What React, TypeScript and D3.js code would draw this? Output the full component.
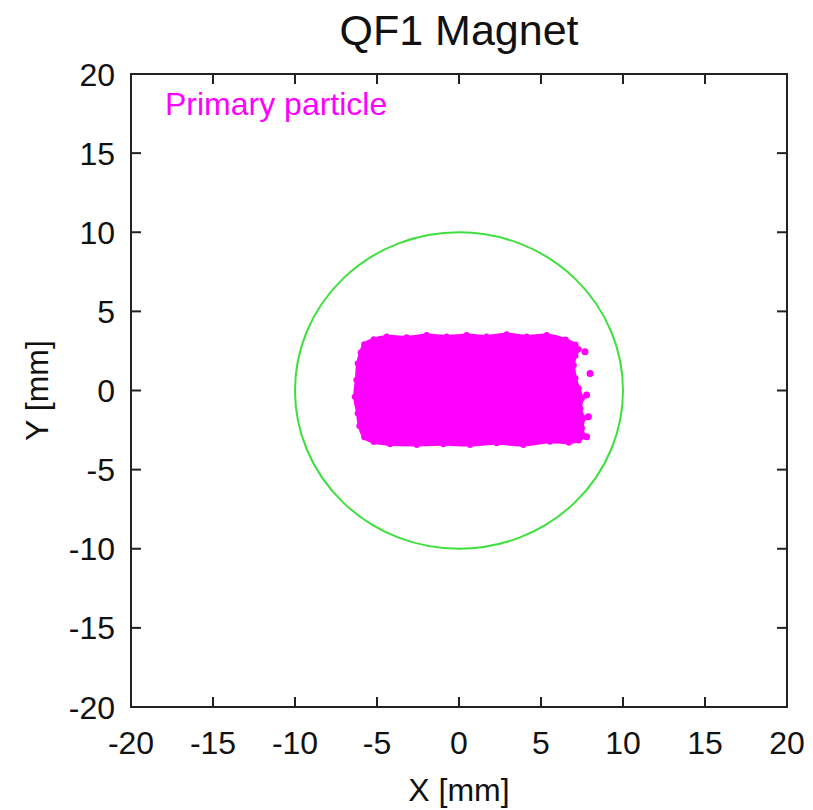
import React, { useEffect, useRef } from 'react';
import * as d3 from 'd3';

// axis ticks (mm)
const xTicks = [-20, -15, -10, -5, 0, 5, 10, 15, 20];
const yTicks = [-20, -15, -10, -5, 0, 5, 10, 15, 20];

// outline of the dense primary particle cloud [x, y] in mm
const cloudOutline: [number, number][] = [
  [-6.00, 2.40], [-5.78, 2.92], [-5.20, 3.24], [-4.41, 3.42], [-3.19, 3.36],
  [-1.97, 3.50], [-0.75, 3.42], [0.47, 3.50], [1.69, 3.42], [2.91, 3.55],
  [4.13, 3.42], [5.35, 3.50], [6.50, 3.22], [7.10, 2.90], [7.30, 2.60],
  [7.10, 2.20], [7.00, 1.60], [7.10, 0.77], [7.30, 0.14], [7.50, -0.49],
  [7.40, -1.13], [7.60, -1.76], [7.50, -2.39], [7.60, -2.86], [7.30, -3.16],
  [6.70, -3.30], [5.55, -3.24], [3.93, -3.44], [2.30, -3.34], [0.68, -3.44],
  [-0.95, -3.40], [-2.57, -3.44], [-4.20, -3.40], [-5.20, -3.26], [-5.78, -2.96],
  [-6.08, -2.25], [-6.18, -1.45], [-6.36, -0.39], [-6.26, 0.66], [-6.18, 1.71],
];

// stray particles just outside the cloud's right edge
const strayPoints: [number, number][] = [
  [7.68, 2.45], [7.99, 1.08], [7.78, -0.29], [7.89, -1.66], [7.78, -2.92],
];

// beam pipe aperture
const apertureRadius = 10;

const App = () => {
  const svgRef = useRef<SVGSVGElement>(null);
  const width = 813;
  const height = 810;

  useEffect(() => {
    const svg = d3.select(svgRef.current);
    svg.selectAll('*').remove();

    const left = 131, right = 787, top = 74, bottom = 707;
    const font = "'Liberation Sans', Arial, Helvetica, sans-serif";

    const x = d3.scaleLinear().domain([-20, 20]).range([left, right]);
    const y = d3.scaleLinear().domain([-20, 20]).range([bottom, top]);

    svg.append('rect')
      .attr('width', width).attr('height', height).attr('fill', '#fff');

    // particle cloud
    const line = d3.line<[number, number]>()
      .x(d => x(d[0]))
      .y(d => y(d[1]))
      .curve(d3.curveCatmullRomClosed);

    svg.append('path')
      .datum(cloudOutline)
      .attr('d', line)
      .attr('fill', '#ff00ff')
      .attr('stroke', '#ff00ff')
      .attr('stroke-width', 3)
      .attr('stroke-linejoin', 'round');

    svg.append('g')
      .selectAll('circle.edge')
      .data(cloudOutline)
      .join('circle')
      .attr('cx', d => x(d[0]))
      .attr('cy', d => y(d[1]))
      .attr('r', 3)
      .attr('fill', '#ff00ff');

    svg.append('g')
      .selectAll('circle.stray')
      .data(strayPoints)
      .join('circle')
      .attr('cx', d => x(d[0]))
      .attr('cy', d => y(d[1]))
      .attr('r', 3.5)
      .attr('fill', '#ff00ff');

    // aperture circle
    svg.append('ellipse')
      .attr('cx', x(0))
      .attr('cy', y(0))
      .attr('rx', x(apertureRadius) - x(0))
      .attr('ry', y(0) - y(apertureRadius))
      .attr('fill', 'none')
      .attr('stroke', '#3ee03e')
      .attr('stroke-width', 2);

    // frame
    svg.append('rect')
      .attr('x', left).attr('y', top)
      .attr('width', right - left).attr('height', bottom - top)
      .attr('fill', 'none')
      .attr('stroke', '#222')
      .attr('stroke-width', 2);

    const tickLen = 10;
    const ticks = svg.append('g').attr('stroke', '#222').attr('stroke-width', 2);
    xTicks.slice(1, -1).forEach(t => {
      ticks.append('line').attr('x1', x(t)).attr('x2', x(t)).attr('y1', bottom).attr('y2', bottom - tickLen);
      ticks.append('line').attr('x1', x(t)).attr('x2', x(t)).attr('y1', top).attr('y2', top + tickLen);
    });
    yTicks.slice(1, -1).forEach(t => {
      ticks.append('line').attr('x1', left).attr('x2', left + tickLen).attr('y1', y(t)).attr('y2', y(t));
      ticks.append('line').attr('x1', right).attr('x2', right - tickLen).attr('y1', y(t)).attr('y2', y(t));
    });

    // tick labels
    svg.append('g')
      .selectAll('text')
      .data(xTicks)
      .join('text')
      .attr('x', d => x(d))
      .attr('y', 754)
      .attr('text-anchor', 'middle')
      .style('font-family', font)
      .style('font-size', '32px')
      .attr('fill', '#111')
      .text(d => d);

    svg.append('g')
      .selectAll('text')
      .data(yTicks)
      .join('text')
      .attr('x', 115)
      .attr('y', d => y(d))
      .attr('dy', '0.36em')
      .attr('text-anchor', 'end')
      .style('font-family', font)
      .style('font-size', '32px')
      .attr('fill', '#111')
      .text(d => d);

    // axis labels
    svg.append('text')
      .attr('x', x(0))
      .attr('y', 801)
      .attr('text-anchor', 'middle')
      .style('font-family', font)
      .style('font-size', '32px')
      .attr('fill', '#111')
      .text('X [mm]');

    svg.append('text')
      .attr('transform', `translate(48, ${y(0)}) rotate(-90)`)
      .attr('text-anchor', 'middle')
      .style('font-family', font)
      .style('font-size', '32px')
      .attr('fill', '#111')
      .text('Y [mm]');

    // title
    svg.append('text')
      .attr('x', x(0))
      .attr('y', 45)
      .attr('text-anchor', 'middle')
      .style('font-family', font)
      .style('font-size', '43px')
      .attr('fill', '#111')
      .text('QF1 Magnet');

    // legend label
    svg.append('text')
      .attr('x', 165)
      .attr('y', 115)
      .style('font-family', font)
      .style('font-size', '32px')
      .attr('fill', '#ff00ff')
      .text('Primary particle');
  }, []);

  return (
    <svg
      ref={svgRef}
      width={width}
      height={height}
      style={{ position: 'absolute', left: 0, top: 0, display: 'block' }}
    />
  );
};

export default App;
